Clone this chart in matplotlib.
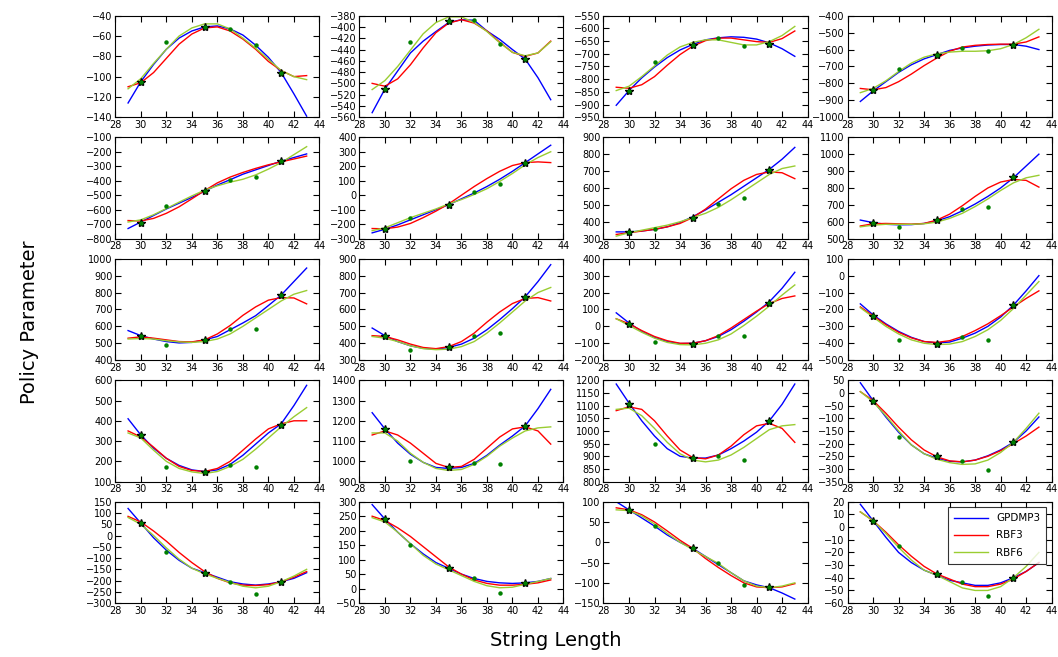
import matplotlib
matplotlib.use("Agg")
import matplotlib.pyplot as plt
import numpy as np

x_line = [29, 30, 31, 32, 33, 34, 35, 36, 37, 38, 39, 40, 41, 42, 43]
x_data = [30, 32, 35, 37, 39, 41]
x_star = [30, 35, 41]

# observed data points per panel (row-major)
data_pts = [
    [-105, -66, -51, -53, -69, -96],
    [-510, -427, -390, -388, -430, -457],
    [-848, -732, -665, -637, -670, -662],
    [-842, -717, -632, -592, -608, -572],
    [-690, -575, -470, -395, -375, -265],
    [-235, -160, -65, 25, 75, 225],
    [340, 355, 425, 505, 540, 705],
    [594, 569, 608, 673, 685, 864],
    [545, 492, 520, 582, 585, 785],
    [440, 360, 375, 440, 460, 675],
    [15, -95, -105, -55, -60, 140],
    [-236, -381, -403, -363, -379, -175],
    [330, 170, 148, 180, 170, 380],
    [1160, 1000, 970, 990, 985, 1175],
    [1105, 950, 895, 900, 885, 1040],
    [-30, -175, -250, -270, -305, -195],
    [55, -75, -165, -205, -260, -205],
    [240, 150, 70, 35, -15, 20],
    [80, 40, -15, -50, -105, -110],
    [5, -15, -37, -43, -54, -40],
]

gpdmp3 = [
    [-126, -105, -88, -73, -62, -55, -51, -50, -53, -59, -69, -81, -96, -117, -139],
    [-552, -510, -478, -446, -425, -408, -392, -387, -388, -407, -422, -440, -457, -490, -529],
    [-903, -845, -795, -752, -715, -685, -663, -645, -637, -633, -635, -642, -657, -680, -710],
    [-907, -845, -790, -735, -690, -655, -630, -605, -590, -580, -573, -570, -570, -580, -600],
    [-730, -685, -640, -595, -555, -515, -472, -430, -393, -355, -325, -295, -265, -240, -215],
    [-260, -235, -205, -170, -135, -100, -65, -25, 15, 60, 110, 165, 225, 285, 345],
    [340, 340, 345, 355, 370, 395, 430, 470, 515, 560, 610, 660, 710, 770, 840],
    [610, 595, 585, 582, 583, 590, 605, 630, 665, 705, 750, 800, 860, 930, 1000],
    [575, 545, 525, 510, 502, 505, 520, 540, 580, 620, 663, 723, 785, 865, 945],
    [490, 445, 410, 385, 370, 365, 375, 395, 430, 480, 540, 605, 675, 765, 865],
    [80, 20, -30, -65, -90, -102, -100, -85, -60, -20, 30, 85, 145, 225, 320],
    [-167, -232, -285, -330, -365, -390, -398, -393, -370, -340, -300, -245, -175, -90, 0],
    [410, 330, 265, 215, 180, 158, 150, 158, 185, 230, 285, 340, 385, 475, 575],
    [1240, 1160, 1090, 1035, 995, 970, 965, 970, 990, 1030, 1080, 1125, 1175, 1260, 1355],
    [1185, 1110, 1040, 980, 930, 900, 893, 893, 905, 930, 960, 995, 1040, 1105, 1185],
    [40, -30, -95, -155, -205, -240, -258, -270, -272, -265, -248, -225, -195, -150, -95],
    [120, 55, -10, -65, -110, -145, -165, -185, -205, -215, -220, -215, -205, -190, -165],
    [290, 240, 195, 155, 120, 90, 70, 50, 35, 25, 20, 18, 20, 25, 35],
    [100, 80, 60, 40, 18, 0, -15, -35, -55, -75, -95, -105, -112, -125, -140],
    [18, 5, -8, -20, -28, -34, -38, -42, -44, -46, -46, -44, -40, -35, -28],
]

rbf3 = [
    [-110, -106, -96, -82, -68, -58, -52, -51, -55, -63, -73, -85, -94, -100, -99],
    [-500, -505, -492, -467, -437, -410, -393, -387, -393, -407, -427, -445, -452, -446, -425],
    [-832, -836, -822, -790, -745, -703, -670, -648, -638, -638, -645, -652, -655, -640, -610],
    [-830, -838, -825, -790, -745, -695, -650, -610, -585, -575, -570, -568, -568, -555, -525],
    [-675, -678, -660, -625, -580, -525, -468, -415, -375, -343, -315, -290, -270, -250, -230],
    [-230, -232, -220, -195, -155, -110, -60, 0, 60, 115, 165, 205, 225, 230, 225],
    [325, 335, 345, 355, 370, 390, 425, 475, 535, 595, 645, 680, 695, 690, 655],
    [575, 588, 590, 588, 586, 590, 610, 645, 695, 750, 800, 835, 850, 845, 805],
    [530, 538, 530, 520, 510, 508, 520, 555, 605, 665, 715, 755, 770, 768, 733],
    [445, 440, 420, 395, 375, 368, 380, 410, 460, 525, 585, 635, 665, 670, 650],
    [45, 15, -25, -60, -85, -100, -100, -85, -55, -10, 40, 90, 135, 165, 180],
    [-185, -238, -290, -335, -368, -390, -395, -385, -360, -325, -285, -237, -185, -135, -90],
    [350, 320, 270, 215, 175, 155, 150, 165, 200, 255, 310, 360, 385, 400, 400],
    [1130, 1150, 1130, 1090, 1040, 990, 970, 975, 1010, 1065, 1120, 1160, 1170, 1150, 1085],
    [1080, 1095, 1085, 1040, 980, 925, 895, 890, 905, 940, 985, 1020, 1030, 1010, 955],
    [5, -30, -80, -135, -185, -225, -252, -268, -272, -265, -250, -228, -200, -170, -135],
    [85, 60, 20, -25, -75, -120, -160, -190, -210, -220, -222, -218, -205, -185, -160],
    [250, 235, 210, 180, 145, 110, 75, 50, 30, 18, 12, 12, 15, 20, 30],
    [85, 80, 68, 50, 28, 5, -15, -40, -62, -82, -100, -110, -112, -110, -102],
    [12, 5, -4, -14, -23, -31, -37, -41, -45, -47, -47, -45, -41, -35, -28],
]

rbf6 = [
    [-112, -102, -87, -73, -60, -52, -48, -48, -53, -62, -72, -83, -94, -100, -103],
    [-511, -495, -470, -441, -412, -392, -382, -382, -392, -408, -428, -445, -451, -446, -426],
    [-845, -828, -790, -748, -705, -673, -655, -645, -645, -655, -665, -665, -652, -628, -592],
    [-855, -830, -785, -730, -680, -645, -625, -615, -610, -610, -607, -595, -570, -530, -480],
    [-685, -670, -635, -592, -548, -505, -465, -435, -410, -390, -360, -320, -275, -220, -165],
    [-245, -225, -190, -155, -125, -95, -60, -30, 5, 45, 95, 150, 210, 260, 300],
    [315, 335, 350, 365, 380, 400, 425, 450, 485, 530, 580, 630, 680, 715, 730],
    [570, 580, 585, 585, 585, 588, 598, 620, 650, 690, 735, 785, 830, 860, 875],
    [525, 528, 525, 515, 508, 505, 510, 525, 555, 600, 650, 700, 750, 790, 812],
    [440, 430, 410, 385, 368, 362, 365, 380, 410, 460, 520, 585, 650, 700, 730],
    [45, 5, -35, -70, -95, -108, -110, -100, -80, -45, 5, 60, 120, 185, 245],
    [-190, -245, -300, -345, -380, -400, -408, -405, -390, -360, -320, -265, -195, -115, -35],
    [340, 315, 255, 200, 165, 148, 140, 150, 175, 210, 260, 315, 370, 420, 465],
    [1140, 1140, 1100, 1040, 995, 965, 955, 960, 985, 1025, 1075, 1115, 1150, 1165, 1170],
    [1085, 1090, 1060, 1010, 955, 910, 885, 878, 885, 905, 935, 970, 1005, 1020, 1025],
    [5, -35, -90, -150, -205, -240, -262, -275, -282, -280, -265, -235, -195, -140, -80],
    [80, 50, 0, -55, -105, -145, -170, -190, -208, -225, -232, -225, -205, -180, -150],
    [245, 230, 195, 155, 115, 85, 65, 45, 25, 10, 3, 5, 15, 25, 35],
    [80, 78, 65, 45, 22, 0, -18, -35, -52, -75, -95, -108, -112, -108, -100],
    [12, 5, -5, -16, -26, -34, -38, -43, -48, -50, -50, -47, -40, -31, -20],
]

y_limits = [
    (-140, -40, 20), (-560, -380, 20), (-950, -550, 50), (-1000, -400, 100),
    (-800, -100, 100), (-300, 400, 100), (300, 900, 100), (500, 1100, 100),
    (400, 1000, 100), (300, 900, 100), (-200, 400, 100), (-500, 100, 100),
    (100, 600, 100), (900, 1400, 100), (800, 1200, 50), (-350, 50, 50),
    (-300, 150, 50), (-50, 300, 50), (-150, 100, 50), (-60, 20, 10),
]

series_names = ["GPDMP3", "RBF3", "RBF6"]
series_colors = ["blue", "red", "yellowgreen"]

fig, axes = plt.subplots(5, 4, figsize=(10.58, 6.57), dpi=100)
fig.subplots_adjust(left=0.109, right=0.994, top=0.976, bottom=0.082,
                    wspace=0.196, hspace=0.198)

for i, ax in enumerate(axes.flat):
    for vals, name, col in zip([gpdmp3[i], rbf3[i], rbf6[i]], series_names, series_colors):
        ax.plot(x_line, vals, color=col, lw=1.0, label=name)
    d = data_pts[i]
    star_y = [d[x_data.index(s)] for s in x_star]
    ax.plot(x_star, star_y, linestyle='none', marker='*', color='black',
            markersize=6, zorder=4)
    ax.plot(x_data, d, linestyle='none', marker='o', color='green',
            markersize=3.2, markeredgewidth=0, zorder=5)
    lo, hi, step = y_limits[i]
    ax.set_ylim(lo, hi)
    ax.set_yticks(np.arange(lo, hi + step / 2, step))
    ax.set_xlim(28, 44)
    ax.set_xticks(np.arange(28, 45, 2))
    ax.tick_params(direction='in', top=True, right=True, labelsize=7,
                   length=4, width=0.8, pad=2)
    for sp in ax.spines.values():
        sp.set_linewidth(0.8)

leg = axes[4, 3].legend(loc='upper right', fontsize=7.5, frameon=True,
                        fancybox=False, handlelength=3.2, borderpad=0.6,
                        labelspacing=0.7)
leg.get_frame().set_edgecolor('black')
leg.get_frame().set_linewidth(0.8)

fig.text(0.028, 0.51, "Policy Parameter", rotation=90, fontsize=14,
         ha='center', va='center')
fig.text(0.525, 0.025, "String Length", fontsize=14, ha='center', va='center')

fig.savefig("out.png", dpi=100)
